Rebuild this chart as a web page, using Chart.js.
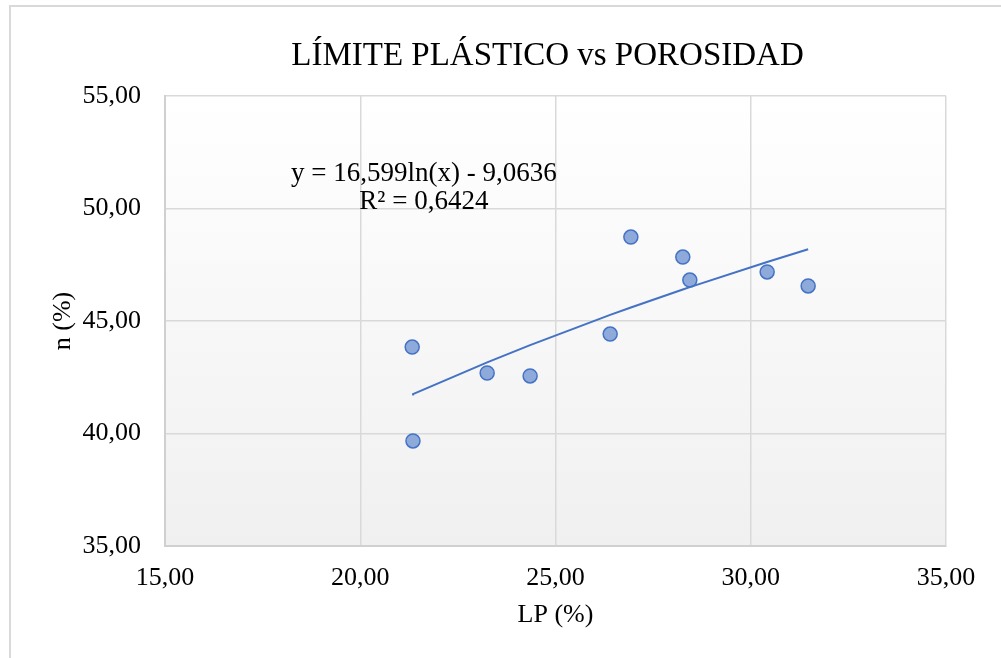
<!DOCTYPE html>
<html lang="es">
<head>
<meta charset="utf-8">
<title>LÍMITE PLÁSTICO vs POROSIDAD</title>
<script src="https://cdn.jsdelivr.net/npm/chart.js@4/dist/chart.umd.min.js"></script>
<style>
  html, body { margin: 0; padding: 0; background: #ffffff; }
  #wrap { position: relative; width: 1001px; height: 658px; }
</style>
</head>
<body>
<div id="wrap"><canvas id="chart" width="1001" height="658"></canvas></div>
<script>
// Límite plástico (LP, %) and porosidad (n, %) for each sample
const lpValues = [21.33, 21.35, 23.25, 24.35, 26.40, 26.93, 28.26, 28.44, 30.42, 31.47];
const nValues  = [43.84, 39.67, 42.69, 42.56, 44.42, 48.73, 47.84, 46.82, 47.18, 46.56];

// Logarithmic trend: n = a·ln(LP) + b
const trendA = 16.599;
const trendB = -9.0636;
const trendEquation = 'y = 16,599ln(x) - 9,0636';
const trendR2 = 'R² = 0,6424';

const chartTitle = 'LÍMITE PLÁSTICO vs POROSIDAD';

// Axis ranges and tick labels
const xTicks = [15, 20, 25, 30, 35];
const yTicks = [35, 40, 45, 50, 55];

const SERIF = '"Liberation Serif", "Times New Roman", serif';
const fmt = v => v.toFixed(2).replace('.', ',');

const points = lpValues.map((x, i) => ({ x: x, y: nValues[i] }));
const trendPoints = lpValues.slice().sort((a, b) => a - b)
  .map(x => ({ x: x, y: trendA * Math.log(x) + trendB }));

// Plot-area gradient, outer chart frame, title and trend label
const decor = {
  id: 'decor',
  beforeDraw(chart) {
    const { ctx, chartArea: a } = chart;
    ctx.save();
    ctx.fillStyle = '#ffffff';
    ctx.fillRect(0, 0, chart.width, chart.height);
    const g = ctx.createLinearGradient(0, a.top, 0, a.bottom);
    g.addColorStop(0, '#ffffff');
    g.addColorStop(1, '#f0f0f0');
    ctx.fillStyle = g;
    ctx.fillRect(a.left, a.top, a.right - a.left, a.bottom - a.top);
    ctx.strokeStyle = '#d9d9d9';
    ctx.lineWidth = 2;
    ctx.beginPath();
    ctx.moveTo(10, chart.height);
    ctx.lineTo(10, 6);
    ctx.lineTo(chart.width, 6);
    ctx.stroke();

    ctx.fillStyle = '#000000';
    ctx.font = '33px ' + SERIF;
    ctx.textAlign = 'center';
    ctx.textBaseline = 'middle';
    ctx.fillText(chartTitle, 547.5, 56);
    ctx.restore();
  },
  afterDatasetsDraw(chart) {
    const { ctx, scales } = chart;
    const cx = scales.x.getPixelForValue(21.63);
    const cy = scales.y.getPixelForValue(51.53);
    ctx.save();
    ctx.fillStyle = '#000000';
    ctx.font = '27px ' + SERIF;
    ctx.textAlign = 'center';
    ctx.textBaseline = 'middle';
    ctx.fillText(trendEquation, cx, cy);
    ctx.fillText(trendR2, cx, cy + 28);
    ctx.restore();
  }
};

new Chart(document.getElementById('chart'), {
  type: 'scatter',
  data: {
    datasets: [
      {
        label: 'Tendencia',
        type: 'line',
        data: trendPoints,
        borderColor: '#4472c4',
        borderWidth: 2,
        pointRadius: 0,
        fill: false,
        tension: 0,
        order: 0
      },
      {
        label: 'n (%)',
        data: points,
        backgroundColor: '#8eaadb',
        borderColor: '#4472c4',
        borderWidth: 1.5,
        pointRadius: 7,
        order: 1
      }
    ]
  },
  options: {
    responsive: false,
    animation: false,
    devicePixelRatio: 1,
    layout: { padding: { left: 0, right: 55, top: 96, bottom: 0 } },
    plugins: {
      legend: { display: false },
      tooltip: { enabled: false },
      title: { display: false }
    },
    scales: {
      x: {
        type: 'linear',
        min: 15,
        max: 35,
        afterBuildTicks: s => { s.ticks = xTicks.map(v => ({ value: v })); },
        afterFit: s => { s.height = 112; },
        grid: { color: '#d9d9d9', lineWidth: 1.5, drawTicks: false },
        border: { color: '#d0d0d0', width: 2 },
        ticks: {
          color: '#000000',
          font: { family: SERIF, size: 26 },
          padding: 17,
          callback: v => fmt(v)
        },
        title: {
          display: true,
          text: 'LP (%)',
          color: '#000000',
          font: { family: SERIF, size: 26, lineHeight: 1.2 },
          padding: { top: 0, bottom: 27 }
        }
      },
      y: {
        type: 'linear',
        min: 35,
        max: 55,
        afterBuildTicks: s => { s.ticks = yTicks.map(v => ({ value: v })); },
        afterFit: s => { s.width = 165; },
        grid: { color: '#d9d9d9', lineWidth: 1.5, drawTicks: false },
        border: { color: '#d0d0d0', width: 2 },
        ticks: {
          color: '#000000',
          font: { family: SERIF, size: 26 },
          padding: 24,
          callback: v => fmt(v)
        },
        title: {
          display: true,
          text: 'n (%)',
          color: '#000000',
          font: { family: SERIF, size: 26, lineHeight: 1.2 },
          padding: { top: 48, bottom: 0 }
        }
      }
    }
  },
  plugins: [decor]
});
</script>
</body>
</html>
